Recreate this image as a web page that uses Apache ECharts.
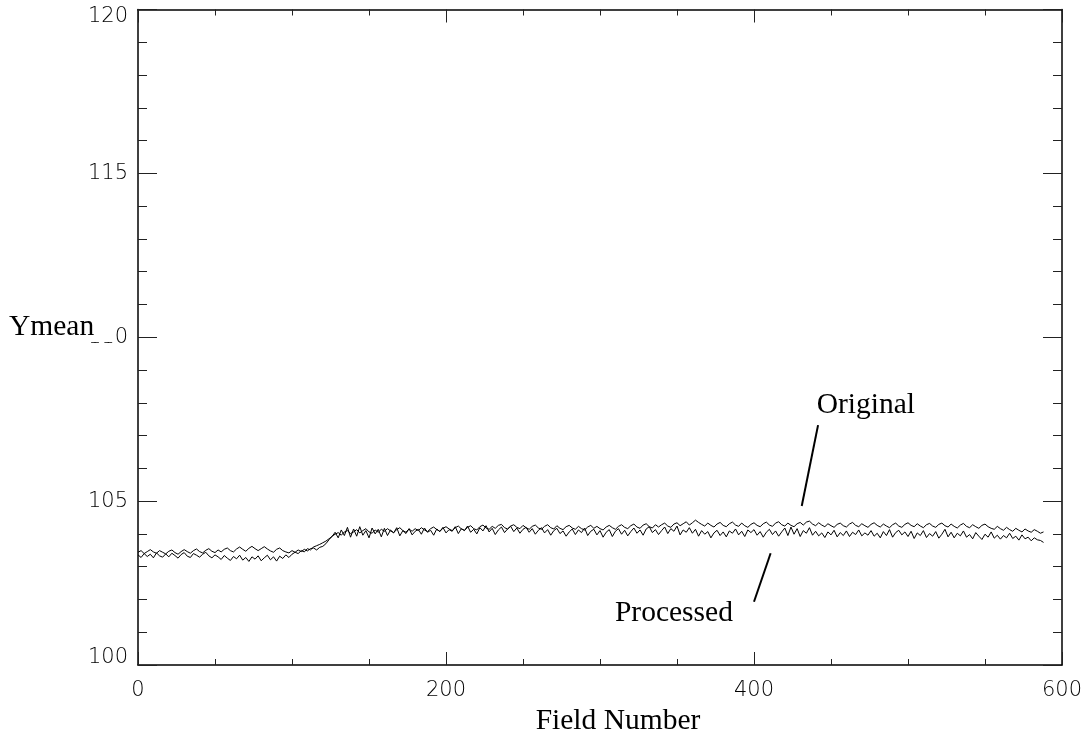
<!DOCTYPE html>
<html>
<head>
<meta charset="utf-8">
<script src="https://cdn.jsdelivr.net/npm/echarts@6/dist/echarts.min.js"></script>
<style>
  html, body { margin: 0; padding: 0; background: #fff; }
  #chart { width: 1089px; height: 744px; }
</style>
</head>
<body>
<div id="chart"></div>
<script>
// Mean luminance per field, sampled every FIELD_STEP fields starting at field 0.
const FIELD_STEP = 2;

const original = [
  103.44, 103.49, 103.40, 103.46, 103.52, 103.45, 103.41, 103.49, 103.44, 103.39,
  103.47, 103.51, 103.43, 103.38, 103.46, 103.52, 103.46, 103.41, 103.49, 103.54,
  103.46, 103.42, 103.50, 103.55, 103.47, 103.43, 103.51, 103.45, 103.53, 103.57,
  103.49, 103.45, 103.54, 103.60, 103.53, 103.47, 103.56, 103.62, 103.55, 103.49,
  103.55, 103.61, 103.54, 103.48, 103.44, 103.53, 103.57, 103.49, 103.45, 103.42,
  103.49, 103.44, 103.51, 103.46, 103.53, 103.48, 103.55, 103.57, 103.51, 103.59,
  103.62, 103.70, 103.82, 103.93, 103.99, 104.04, 103.96, 104.06, 104.10, 104.01,
  104.06, 104.13, 104.03, 104.10, 104.16, 104.06, 104.02, 104.12, 104.05, 104.14,
  104.08, 104.16, 104.09, 104.04, 104.13, 104.19, 104.10, 104.05, 104.15, 104.08,
  104.16, 104.10, 104.19, 104.12, 104.07, 104.16, 104.21, 104.13, 104.08, 104.17,
  104.22, 104.15, 104.10, 104.19, 104.24, 104.15, 104.11, 104.20, 104.25, 104.16,
  104.12, 104.22, 104.27, 104.18, 104.14, 104.23, 104.17, 104.26, 104.29, 104.19,
  104.15, 104.24, 104.28, 104.20, 104.16, 104.26, 104.19, 104.14, 104.23, 104.27,
  104.18, 104.14, 104.23, 104.28, 104.19, 104.15, 104.25, 104.17, 104.13, 104.22,
  104.26, 104.18, 104.14, 104.23, 104.16, 104.12, 104.21, 104.26, 104.17, 104.23,
  104.16, 104.12, 104.21, 104.26, 104.19, 104.14, 104.23, 104.28, 104.20, 104.16,
  104.25, 104.30, 104.21, 104.17, 104.27, 104.31, 104.22, 104.18, 104.28, 104.21,
  104.28, 104.33, 104.24, 104.20, 104.30, 104.34, 104.25, 104.31, 104.37, 104.27,
  104.34, 104.42, 104.35, 104.29, 104.24, 104.33, 104.26, 104.21, 104.30, 104.35,
  104.26, 104.22, 104.31, 104.36, 104.27, 104.23, 104.33, 104.25, 104.20, 104.29,
  104.34, 104.26, 104.22, 104.31, 104.36, 104.27, 104.23, 104.33, 104.37, 104.28,
  104.24, 104.33, 104.26, 104.22, 104.31, 104.35, 104.27, 104.36, 104.39, 104.30,
  104.25, 104.34, 104.27, 104.22, 104.31, 104.25, 104.20, 104.29, 104.33, 104.25,
  104.21, 104.30, 104.35, 104.26, 104.22, 104.31, 104.25, 104.20, 104.29, 104.34,
  104.26, 104.21, 104.30, 104.24, 104.19, 104.28, 104.33, 104.24, 104.20, 104.29,
  104.34, 104.26, 104.22, 104.31, 104.24, 104.19, 104.28, 104.32, 104.24, 104.20,
  104.29, 104.33, 104.25, 104.21, 104.30, 104.23, 104.18, 104.27, 104.32, 104.23,
  104.19, 104.28, 104.22, 104.17, 104.26, 104.30, 104.22, 104.17, 104.14, 104.23,
  104.16, 104.11, 104.20, 104.13, 104.08, 104.17, 104.11, 104.06, 104.15, 104.09,
  104.05, 104.13, 104.08, 104.02, 104.06
];

const processed = [
  103.36, 103.28, 103.40, 103.31, 103.38, 103.27, 103.42, 103.33, 103.29, 103.39,
  103.30, 103.41, 103.34, 103.26, 103.37, 103.43, 103.32, 103.28, 103.40, 103.35,
  103.29, 103.38, 103.44, 103.33, 103.27, 103.36, 103.30, 103.22, 103.34, 103.26,
  103.19, 103.31, 103.24, 103.35, 103.20, 103.28, 103.16, 103.30, 103.23, 103.33,
  103.18, 103.27, 103.35, 103.21, 103.30, 103.17, 103.32, 103.25, 103.36, 103.28,
  103.38, 103.44, 103.40, 103.49, 103.45, 103.55, 103.51, 103.60, 103.64, 103.68,
  103.73, 103.78, 103.85, 103.92, 104.05, 103.88, 104.12, 103.95, 104.20, 103.90,
  104.15, 103.93, 104.22, 103.96, 104.10, 103.88, 104.18, 104.00, 104.14, 103.91,
  104.17, 103.95, 104.12, 104.03, 104.19, 103.94, 104.10, 104.01, 104.16, 103.97,
  104.08, 104.14, 103.99, 104.18, 104.05, 104.11, 103.96, 104.15, 104.07, 104.20,
  104.03, 104.13, 104.08, 104.22, 104.01, 104.16, 104.10, 104.24, 104.05, 104.14,
  104.00, 104.19, 104.09, 104.25, 104.06, 104.17, 103.98, 104.12, 104.21, 104.04,
  104.15, 104.23, 104.07, 104.18, 104.02, 104.14, 104.20, 104.05, 104.16, 103.99,
  104.11, 104.19, 104.03, 104.13, 103.96, 104.10, 104.17, 104.01, 104.09, 103.93,
  104.06, 104.15, 103.98, 104.12, 104.04, 104.18, 103.95, 104.08, 104.14, 103.97,
  104.10, 103.90, 104.05, 104.13, 103.92, 104.08, 104.16, 103.99, 104.11, 103.94,
  104.07, 104.18, 104.02, 104.12, 103.96, 104.15, 104.22, 104.04, 104.13, 103.98,
  104.10, 104.21, 104.01, 104.16, 104.08, 104.24, 103.97, 104.12, 104.05, 104.19,
  104.02, 104.14, 103.93, 104.10, 103.99, 104.07, 103.88, 104.03, 104.11, 103.95,
  104.06, 103.91, 104.09, 104.02, 104.15, 103.97, 104.08, 103.92, 104.12, 104.04,
  104.13, 103.96, 104.07, 103.90, 104.05, 104.14, 103.98, 104.09, 103.93, 104.06,
  104.18, 103.95, 104.21, 103.99, 104.16, 103.92, 104.10, 104.02, 104.19, 103.96,
  104.08, 103.94, 104.03, 103.89, 104.06, 103.97, 104.11, 103.91, 104.04, 103.95,
  104.09, 103.92, 104.05, 103.98, 104.12, 103.94, 104.03, 103.96, 104.10, 103.93,
  104.02, 103.88, 104.07, 103.95, 104.13, 103.90, 104.04, 104.11, 103.97, 104.06,
  103.92, 104.08, 103.86, 104.03, 103.95, 104.10, 103.89, 104.01, 103.93, 104.07,
  103.87, 103.99, 104.14, 103.91, 104.05, 103.88, 104.02, 103.94, 104.09, 103.90,
  103.98, 103.85, 104.04, 103.93, 103.83, 103.99, 103.90, 104.06, 103.87, 103.96,
  103.84, 103.95, 103.88, 104.02, 103.86, 103.93, 103.81, 103.97, 103.85, 103.90,
  103.79, 103.88, 103.82, 103.80, 103.74
];

// Axis ranges and tick spacing
const xRange = [0, 600];
const xMajor = 200;
const yRange = [100, 120];
const yMajor = 5;

// Text labels
const xTitle = 'Field Number';
const yTitle = 'Ymean';

// Callout labels: text anchor and pointer segment, in data coordinates
const callouts = [
  { text: 'Original',  at: [440.7, 107.59], from: [441.6, 107.32], to: [431.0, 104.85] },
  { text: 'Processed', at: [309.7, 101.25], from: [410.8, 103.41], to: [400.0, 101.93] }
];

const toPairs = arr => arr.map((v, i) => [i * FIELD_STEP, v]);

const tickFont = { fontFamily: 'DejaVu Sans', fontWeight: 200, fontSize: 21, color: '#000' };
const serifFont = '29.5px "Liberation Serif", "Times New Roman", serif';
const frame = { show: true, onZero: false, lineStyle: { color: '#000', width: 1.5 } };
const tickLine = { color: '#222', width: 1 };

function xAxisCfg(pos, labels) {
  return {
    type: 'value', position: pos, min: xRange[0], max: xRange[1], interval: xMajor,
    axisLine: frame,
    axisTick: { show: true, inside: true, length: 13, lineStyle: tickLine },
    minorTick: { show: true, splitNumber: 4, length: 6, lineStyle: tickLine },
    axisLabel: labels ? Object.assign({ show: true, margin: 15 }, tickFont) : { show: false },
    splitLine: { show: false }, minorSplitLine: { show: false }
  };
}
function yAxisCfg(pos, labels) {
  return {
    type: 'value', position: pos, min: yRange[0], max: yRange[1], interval: yMajor,
    axisLine: frame,
    axisTick: { show: true, inside: true, length: 19, lineStyle: tickLine },
    minorTick: { show: true, splitNumber: 5, length: 9, lineStyle: tickLine },
    axisLabel: labels
      ? Object.assign({
          show: true, margin: 10, lineHeight: 14,
          verticalAlignMaxLabel: 'top', verticalAlignMinLabel: 'bottom'
        }, tickFont)
      : { show: false },
    splitLine: { show: false }, minorSplitLine: { show: false }
  };
}

const chart = echarts.init(document.getElementById('chart'), null, { renderer: 'canvas' });

chart.setOption({
  animation: false,
  backgroundColor: '#fff',
  grid: { left: 138, right: 27, top: 9.5, bottom: 79, containLabel: false },
  xAxis: [xAxisCfg('bottom', true), xAxisCfg('top', false)],
  yAxis: [yAxisCfg('left', true), yAxisCfg('right', false)],
  series: [
    {
      name: 'Original', type: 'line', xAxisIndex: 0, yAxisIndex: 0,
      data: toPairs(original), showSymbol: false, symbol: 'none',
      lineStyle: { color: '#000', width: 1 }, z: 3
    },
    {
      name: 'Processed', type: 'line', xAxisIndex: 0, yAxisIndex: 0,
      data: toPairs(processed), showSymbol: false, symbol: 'none',
      lineStyle: { color: '#000', width: 1 }, z: 3
    }
  ]
});

// Titles and callouts are placed after layout so they follow the axes.
const px = p => chart.convertToPixel({ xAxisIndex: 0, yAxisIndex: 0 }, p);
const graphics = [];

const xMid = px([(xRange[0] + xRange[1]) / 2, yRange[0]]);
graphics.push({
  type: 'text', x: xMid[0] + 18, y: 736, z: 100,
  style: { text: xTitle, font: serifFont, fill: '#000', align: 'center', verticalAlign: 'bottom' }
});

// The y title sits on a white box that runs over the neighbouring tick label.
graphics.push({
  type: 'text', x: 7, y: 342, z: 100,
  style: {
    text: yTitle, font: serifFont, fill: '#000', align: 'left', verticalAlign: 'bottom',
    backgroundColor: '#fff', padding: [4, 18, 0, 2]
  }
});

callouts.forEach(c => {
  const a = px(c.at), f = px(c.from), t = px(c.to);
  graphics.push({
    type: 'text', x: a[0], y: a[1] + 4.5, z: 100,
    style: { text: c.text, font: serifFont, fill: '#000', align: 'left', verticalAlign: 'bottom' }
  });
  graphics.push({
    type: 'line', z: 100,
    shape: { x1: f[0], y1: f[1], x2: t[0], y2: t[1] },
    style: { stroke: '#000', lineWidth: 2 }
  });
});

chart.setOption({ graphic: graphics });
</script>
</body>
</html>
